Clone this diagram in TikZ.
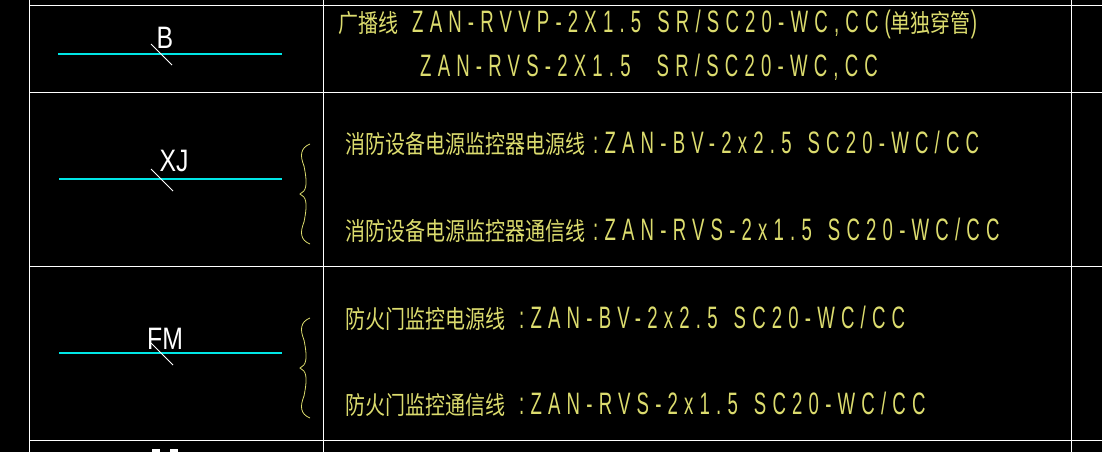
\documentclass[tikz,border=0pt]{standalone}
\usepackage{fontspec}
\newfontfamily\cjk[FakeStretch=0.8]{Noto Sans CJK SC}
\newfontfamily\lat[FakeStretch=0.6,LetterSpace=20]{Liberation Sans}
\newfontfamily\labf[FakeStretch=0.8]{Liberation Sans}
\definecolor{yel}{RGB}{220,220,110}
\definecolor{cy}{RGB}{0,230,230}
\newcommand\lt[1]{{\lat\fontsize{31}{31}\selectfont #1}}
\newcommand\gp{\hspace{16pt}}
\begin{document}
\begin{tikzpicture}[x=1pt,y=-1pt,
  grid/.style={white,line width=1.2pt},
  sym/.style={cy,line width=1.3pt},
  tick/.style={white,line width=0.8pt},
  lab/.style={white,font=\labf\fontsize{31}{31}\selectfont,inner sep=0},
  txt/.style={yel,anchor=west,inner sep=0,font=\cjk\fontsize{25}{25}\selectfont},
  brc/.style={yel,line width=0.8pt}]
\fill[black] (0,0) rectangle (1102,452);
\useasboundingbox (0,0) rectangle (1102,452);
\draw[grid] (29.5,0) -- (29.5,452);
\draw[grid] (323.5,0) -- (323.5,452);
\draw[grid] (1071.5,0) -- (1071.5,452);
\foreach \y in {5.5,92.5,266.5,440.5} \draw[grid] (29.5,\y) -- (1102,\y);
% symbols
\draw[sym] (58,54) -- (282,54);
\draw[tick] (151,44) -- (172,65);
\node[lab] (b) at (165,38) {B};
\draw[sym] (59,179) -- (282,179);
\draw[tick] (151,169) -- (173,191);
\node[lab] (xj) at (174,161) {XJ};
\draw[sym] (59,353) -- (282,353);
\draw[tick] (151,343) -- (173,365);
\node[lab] (fm) at (165,339) {FM};
\fill[white] (152,449) rectangle (160,452);
\fill[white] (170,449) rectangle (178,452);
% braces
\foreach \t/\b in {144/244,318/418}{
  \pgfmathsetmacro\m{(\t+\b)/2}
  \draw[brc] (310,\t) .. controls (300,\t+4) and (300,\t+12) .. (304,\t+22)
    .. controls (308,\m-8) and (306,\m-3) .. (300,\m)
    .. controls (306,\m+3) and (308,\m+8) .. (304,\b-22)
    .. controls (300,\b-12) and (300,\b-4) .. (310,\b);
}
% texts
\node[txt] (t1) at (338,24) {广播线\hspace{14pt}\lt{ZAN-RVVP-2X1.5\gp SR/SC20-WC,CC(}单独穿管\lt{)}};
\node[txt] (t2) at (420,67) {\lt{ZAN-RVS-2X1.5\gp\hspace{10pt}SR/SC20-WC,CC}};
\node[txt] (t3) at (345,143) {消防设备电源监控器电源线\hspace{8pt}\lt{:ZAN-BV-2x2.5\gp SC20-WC/CC}};
\node[txt] (t4) at (345,230) {消防设备电源监控器通信线\hspace{8pt}\lt{:ZAN-RVS-2x1.5\gp SC20-WC/CC}};
\node[txt] (t5) at (345,318) {防火门监控电源线\hspace{14pt}\lt{:ZAN-BV-2x2.5\gp SC20-WC/CC}};
\node[txt] (t6) at (345,404) {防火门监控通信线\hspace{14pt}\lt{:ZAN-RVS-2x1.5\gp SC20-WC/CC}};
\end{tikzpicture}
\end{document}
